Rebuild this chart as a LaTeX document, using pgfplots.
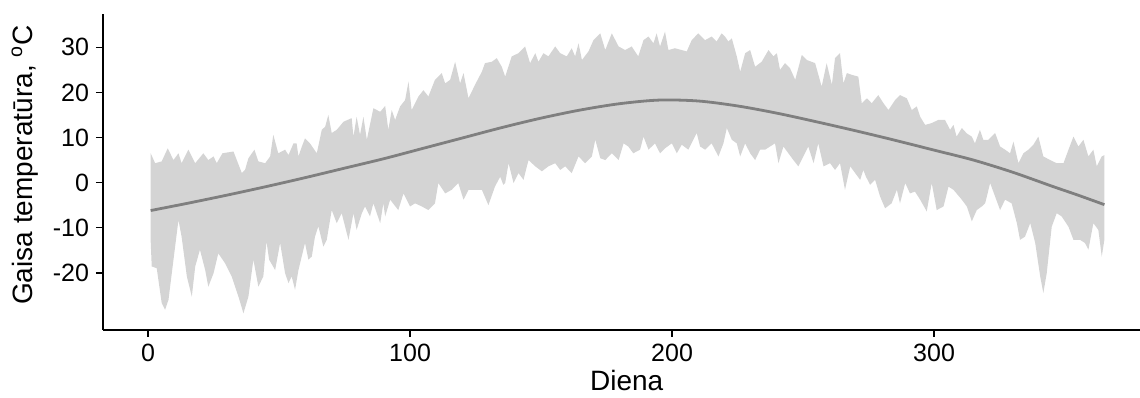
\documentclass[border=0pt]{standalone}
\usepackage{fontspec}
\setmainfont{Liberation Sans}
\usepackage{pgfplots}
\usepackage{pgfplotstable}
\pgfplotsset{compat=1.18}
\usepgfplotslibrary{fillbetween}
\definecolor{ribbon}{HTML}{D4D4D4}
\definecolor{linegray}{HTML}{7F7F7F}

\pgfplotstableread{
day val
1.0 6.5
2.7 4.3
5.2 4.7
7.5 7.6
9.7 5.0
11.6 6.5
12.8 4.3
15.4 7.3
18.0 4.3
21.1 6.5
23.0 5.0
25.0 5.8
26.2 4.3
28.4 6.5
32.6 6.9
35.8 2.1
37.0 2.8
38.3 5.4
40.6 7.3
42.1 4.7
44.7 4.3
46.6 5.8
47.8 10.6
49.7 6.5
52.3 7.3
53.6 6.1
55.5 8.7
56.7 8.7
57.4 5.8
58.7 8.0
59.9 9.8
61.8 8.7
64.4 6.5
66.3 11.7
67.6 12.4
68.8 15.0
70.1 11.0
72.0 11.7
74.6 13.5
77.7 14.3
78.4 10.2
79.6 14.6
80.9 10.6
82.2 14.6
83.5 9.5
86.0 16.5
88.6 15.7
90.5 17.0
91.7 11.7
93.0 16.1
94.3 13.9
96.2 16.9
98.1 18.3
99.4 22.4
100.6 16.1
103.2 19.1
105.1 20.5
107.0 19.1
109.5 22.8
112.1 24.3
113.4 22.0
115.3 22.8
117.2 26.8
119.1 22.0
120.4 24.3
122.3 18.7
124.8 21.7
127.4 24.6
128.6 26.5
131.2 26.8
133.1 27.6
135.0 25.7
136.3 23.5
138.8 28.0
141.4 28.7
143.9 30.2
145.8 26.5
147.8 28.7
149.0 26.8
150.9 28.7
152.8 28.0
155.4 30.2
157.3 28.7
159.8 28.0
161.7 29.8
163.0 28.0
164.3 30.9
165.6 27.2
168.1 29.1
170.0 31.6
172.6 33.1
174.5 29.4
177.0 33.1
179.6 30.2
182.1 29.4
184.6 30.2
187.1 28.0
189.1 31.6
191.0 32.4
192.9 30.9
194.1 33.1
195.4 30.2
197.3 33.5
198.6 29.4
201.1 29.8
203.7 29.4
205.6 29.1
207.5 31.6
210.0 33.1
212.6 31.6
215.1 32.4
217.0 31.3
218.9 33.1
220.2 32.4
221.5 31.3
222.8 32.0
224.7 28.0
226.0 24.6
227.9 28.7
229.8 29.4
231.7 25.7
234.2 26.8
236.8 29.4
238.7 28.0
240.0 28.7
241.2 25.0
243.1 26.5
245.0 25.4
247.0 22.8
249.5 28.3
251.4 27.2
254.6 26.5
257.1 21.3
259.0 26.5
261.0 21.7
262.2 27.6
264.1 28.7
265.4 22.0
266.7 24.3
268.6 23.9
271.1 23.5
272.4 17.6
274.4 18.7
276.2 17.6
278.7 19.4
280.7 17.6
282.6 16.1
285.1 18.3
287.0 19.4
289.6 18.7
291.5 16.1
293.4 16.9
294.7 14.6
296.6 12.8
299.1 13.2
301.6 13.9
304.2 13.9
306.1 11.7
307.4 12.8
308.6 10.2
310.6 12.1
312.5 10.9
314.4 10.2
315.6 8.7
317.5 11.7
318.8 9.5
320.7 9.5
323.3 11.0
325.2 8.0
327.1 7.3
329.0 6.5
330.3 9.1
332.2 4.3
334.1 6.5
336.0 7.3
337.9 8.4
339.8 10.2
341.7 5.8
344.3 5.0
346.8 4.3
349.4 4.3
351.3 7.3
353.2 10.2
355.1 8.0
357.0 9.5
358.9 5.8
360.8 7.3
362.1 3.6
364.0 5.8
365.0 6.1
}\uptab

\pgfplotstableread{
day val
1.0 -13.0
1.4 -18.6
3.3 -19.0
5.2 -26.7
6.5 -28.2
7.8 -26.0
9.7 -17.1
11.6 -8.3
12.8 -12.0
14.8 -20.8
16.7 -25.3
18.0 -18.6
19.8 -14.9
21.8 -19.4
23.0 -23.1
25.0 -20.1
26.8 -15.7
29.4 -17.9
31.9 -20.8
34.5 -25.3
36.4 -29.0
38.3 -25.3
40.2 -17.1
42.1 -23.1
44.0 -20.8
45.2 -13.0
46.2 -17.1
48.5 -19.4
50.4 -13.4
52.3 -20.1
53.6 -22.3
54.8 -20.8
56.1 -23.8
57.4 -19.4
59.9 -13.4
61.2 -17.1
62.5 -16.4
63.7 -12.0
65.0 -9.7
66.9 -14.2
68.2 -12.7
70.1 -6.1
72.0 -9.0
73.9 -6.8
76.5 -12.7
78.4 -6.8
79.6 -10.5
81.6 -6.8
82.8 -5.3
84.7 -7.5
86.0 -4.6
88.6 -9.0
89.8 -4.6
90.5 -7.5
92.4 -3.8
95.5 -6.1
97.5 -2.4
100.0 -5.3
101.9 -4.6
104.5 -5.3
107.0 -6.1
109.5 -4.6
110.8 -0.1
113.4 -2.4
115.9 -1.6
118.4 -0.1
120.4 -3.8
122.3 -1.6
124.8 -1.6
127.4 -1.6
129.9 -5.0
132.4 -0.9
134.4 1.3
135.6 -0.5
136.3 -0.1
137.6 4.3
139.5 -0.1
141.4 2.1
143.3 0.6
145.2 5.0
147.8 3.6
150.3 2.5
152.8 3.6
155.4 4.3
157.3 2.8
159.2 3.6
161.7 2.1
164.3 5.8
166.8 4.3
169.4 5.8
170.7 9.5
172.6 5.4
174.5 5.0
177.0 6.5
179.6 5.0
181.5 8.7
183.3 8.0
185.2 6.5
187.8 7.3
189.1 10.2
191.0 7.3
193.5 8.7
195.4 6.5
197.3 7.6
199.9 8.7
201.8 6.5
203.7 8.4
206.2 7.3
209.4 11.0
210.7 8.0
212.6 7.3
215.1 8.7
217.7 5.8
219.6 8.7
220.9 12.1
222.8 9.5
224.7 8.7
226.0 5.8
227.9 8.7
229.8 6.5
231.7 5.0
233.6 7.3
235.5 7.3
237.4 8.0
239.3 8.7
240.6 4.3
242.5 8.0
244.4 6.5
246.3 5.0
248.2 3.6
250.1 5.8
252.0 8.0
254.0 4.3
255.8 8.7
257.8 3.6
260.3 4.3
262.2 2.8
264.1 4.3
266.0 -1.6
268.0 3.6
269.9 2.1
271.8 0.6
273.0 2.8
274.0 1.3
275.6 -0.5
277.5 0.6
279.4 -3.1
281.3 -5.7
283.8 -4.6
285.8 -1.6
287.0 -4.6
289.0 -0.1
290.8 -2.4
292.7 -2.0
294.7 -3.8
297.2 -6.4
299.1 -0.1
301.0 -6.1
303.6 -5.3
305.5 -0.9
307.4 -1.6
310.6 -3.8
312.5 -5.3
314.4 -8.6
316.3 -6.1
318.2 -5.3
319.5 -4.6
321.4 -0.1
323.3 -3.1
325.2 -6.1
327.1 -3.8
329.6 -4.6
331.6 -9.0
332.8 -12.7
334.7 -12.0
336.7 -9.0
338.6 -13.4
340.5 -20.8
341.7 -24.5
343.0 -20.1
344.9 -9.8
346.8 -6.8
348.7 -7.5
351.3 -9.8
353.2 -12.7
355.7 -12.7
357.6 -13.4
358.9 -14.9
360.8 -9.0
362.7 -10.5
364.0 -16.4
365.0 -12.7
}\lowtab

\pgfplotstableread{
day val
1 -6.2
15 -4.6
30 -2.8
45 -0.9
60 1.1
75 3.2
90 5.3
105 7.6
120 9.9
135 12.2
150 14.3
165 16.1
180 17.5
195 18.3
210 18.1
225 17.0
240 15.4
255 13.5
270 11.5
285 9.4
300 7.2
315 5.0
330 2.3
345 -0.8
355 -2.8
365 -4.9
}\meantab

\begin{document}
\begin{tikzpicture}
\begin{axis}[
  name=ax,
  scale only axis,
  width=518.5pt, height=158pt,
  xmin=-17.2, xmax=378.6,
  ymin=-32.7, ymax=37.4,
  axis x line*=bottom, axis y line*=left,
  axis line style={line width=1pt, black},
  xtick={0,100,200,300}, xticklabels={0,100,200,300},
  ytick={-20,-10,0,10,20,30}, yticklabels={-20,-10,0,10,20,30},
  tick align=outside, major tick length=3.5pt,
  tick style={line width=0.8pt, black},
  tick label style={font=\fontsize{12.5}{14}\selectfont, text=black},
  xlabel={Diena}, ylabel={Gaisa temperatūra, \textsuperscript{o}C},
  label style={font=\fontsize{14}{16}\selectfont},
  xlabel style={at={(axis description cs:0.505,-0.19)}, anchor=base},
  ylabel style={at={(axis description cs:-0.0752,0.522)}, anchor=center},
  clip=true,
]
\addplot[name path=U, draw=none, forget plot] table[x=day, y=val] {\uptab};
\addplot[name path=L, draw=none, forget plot] table[x=day, y=val] {\lowtab};
\addplot[fill=ribbon, draw=none] fill between[of=U and L];
\addplot[color=linegray, line width=1.4pt, smooth] table[x=day, y=val] {\meantab};
\end{axis}
\pgfresetboundingbox
\path ([xshift=-51.5pt,yshift=-34pt]ax.south west) rectangle ([yshift=7pt]ax.north east);
\end{tikzpicture}
\end{document}
